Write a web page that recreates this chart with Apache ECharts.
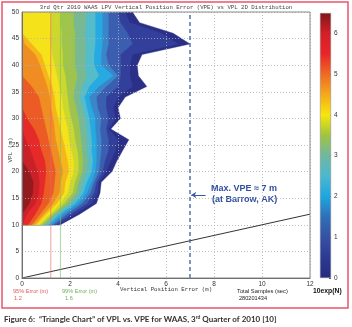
<!DOCTYPE html>
<html><head><meta charset="utf-8">
<script src="https://cdn.jsdelivr.net/npm/echarts@6/dist/echarts.min.js"></script>
<style>html,body{margin:0;padding:0;background:#fff}#c{width:352px;height:327px}</style>
</head><body><div id="c"></div>
<script>
// ---- data ----
const vplRows = [10,12,14,16,18,20,22,24,26,28,30,32,34,36,38,40,42,44,46,48,50];
// VPE (m) where each contour band ends, per VPL row (outermost band first)
const edgeNavy     = [1.6,2.4,3.1,3.25,3.3,3.75,3.95,4.2,4.45,3.7,4.1,4.0,4.3,5.2,4.85,4.8,5.0,7.0,6.3,4.9,4.6];
const edgeDarkBlue = [1.5,2.2,2.9,3.15,3.2,3.5,3.7,3.9,4.0,3.6,3.9,3.8,4.0,4.6,4.5,4.5,4.6,6.5,5.8,4.5,4.3];
const edgeBlue     = [1.4,2.0,2.7,3.0,3.1,3.35,3.45,3.6,3.6,3.5,3.6,3.5,3.5,4.0,4.1,4.1,4.1,4.6,4.4,4.1,4.0];
const edgeMidBlue  = [1.3,1.85,2.5,2.85,3.0,3.2,3.25,3.3,3.3,3.25,3.3,3.15,3.1,3.5,4.0,3.6,3.5,3.6,3.6,3.6,3.6];
const edgeCyan     = [1.2,1.7,2.35,2.7,2.9,3.05,3.1,3.1,3.1,3.05,3.05,2.9,2.8,3.2,3.8,3.3,3.3,3.35,3.35,3.35,3.35];
const edgeTeal     = [1.1,1.55,2.2,2.55,2.7,2.9,2.95,2.9,2.9,2.85,2.8,2.7,2.6,2.8,3.2,3.0,3.0,3.05,3.05,3.05,3.05];
const edgeTealGreen= [1.0,1.45,2.05,2.4,2.5,2.7,2.75,2.7,2.7,2.65,2.6,2.5,2.4,2.5,2.7,2.6,2.65,2.65,2.6,2.65,2.65];
const edgeGreen    = [0.9,1.35,1.9,2.25,2.35,2.5,2.55,2.5,2.45,2.4,2.35,2.25,2.15,2.2,2.3,2.2,2.2,2.2,2.2,2.15,2.15];
const edgeYelGreen = [0.8,1.25,1.75,2.1,2.2,2.35,2.35,2.3,2.2,2.15,2.05,1.95,1.9,1.85,1.8,1.7,1.7,1.65,1.65,1.6,1.6];
const edgeYellow   = [0.7,1.15,1.6,1.9,2.0,2.15,2.15,2.05,1.95,1.9,1.8,1.7,1.65,1.55,1.45,1.35,1.25,1.2,1.2,1.2,1.2];
const edgeYelOrange= [0.6,1.0,1.45,1.75,1.8,1.95,1.9,1.8,1.7,1.6,1.5,1.4,1.35,1.25,1.1,0.95,0.8,0.4,0,0,0];
const edgeOrange   = [0.5,0.9,1.3,1.55,1.6,1.7,1.6,1.5,1.4,1.35,1.3,1.2,1.15,1.05,0.9,0.75,0.55,0.1,0,0,0];
const edgeRedOrange= [0.4,0.75,1.1,1.3,1.35,1.4,1.3,1.2,1.1,1.0,0.9,0.8,0.7,0.4,0,0,0,0,0,0,0];
const edgeRed      = [0.25,0.55,0.8,0.9,0.95,1.0,0.95,0.8,0.7,0.5,0.2,0,0,0,0,0,0,0,0,0,0];
const edgeDarkRed  = [0,0.2,0.55,0.7,0.72,0.65,0.5,0.35,0.15,0,0,0,0,0,0,0,0,0,0,0,0];
const edgeDeepRed  = [0,0,0.3,0.45,0.47,0.3,0,0,0,0,0,0,0,0,0,0,0,0,0,0,0];
const bandColors = ['#2a2f87','#33409b','#3c5eb0','#3a86c8','#27a9e1','#55bcc9','#78b993','#9ec54a',
                    '#cdd82e','#f5e21a','#f6b61b','#f08d22','#ec5b25','#e52a29','#c92128','#931b1e'];
const bandEdges = [edgeNavy,edgeDarkBlue,edgeBlue,edgeMidBlue,edgeCyan,edgeTeal,edgeTealGreen,edgeGreen,
                   edgeYelGreen,edgeYellow,edgeYelOrange,edgeOrange,edgeRedOrange,edgeRed,edgeDarkRed,edgeDeepRed];
const overboundX = [0, 12];          // VPL = VPE line
const err95 = 1.2, err99 = 1.6, maxVPE = 7;
const arrowFromX = 7.65, arrowY = 15.6;
const colorbarMax = 6.5;
const colorbarStops = [0,0.5,1,1.5,2,2.5,3,3.5,4,4.5,5,5.5,6,6.5];
const colorbarColors = ['#262a80','#2c3a93','#3651a4','#2f6fb8','#1da6e0','#4bb8cf','#6fb8a0','#a0c440',
                        '#f7e60d','#f4a91c','#ee6a24','#e8252a','#d41f27','#7e1818'];

const chart = echarts.init(document.getElementById('c'), null, {renderer:'canvas'});
const sans = 'Liberation Sans';
const vLine = (x) => [[x, 0], [x, 50]];

chart.setOption({
  animation:false,
  grid:[
    {left:22, top:12, width:288, height:266, show:true, borderColor:'#8a8a8a', borderWidth:1, z:8},
    {left:320, top:13, width:11, height:265}
  ],
  xAxis:[
    {gridIndex:0, type:'value', min:0, max:12, interval:2, z:5,
     axisLine:{show:true, lineStyle:{color:'#555', width:1}}, axisTick:{show:false},
     axisLabel:{fontSize:6.5, fontFamily:sans, color:'#333', margin:3},
     splitLine:{show:true, lineStyle:{color:'#b0b0b0', type:[1,2], width:0.8}}},
    {gridIndex:1, type:'category', data:['cb'], show:false}
  ],
  yAxis:[
    {gridIndex:0, type:'value', min:0, max:50, interval:5, z:5,
     axisLine:{show:true, lineStyle:{color:'#555', width:1}}, axisTick:{show:false},
     axisLabel:{fontSize:6.5, fontFamily:sans, color:'#333', margin:3},
     splitLine:{show:true, lineStyle:{color:'#b0b0b0', type:[1,2], width:0.8}}},
    {gridIndex:1, type:'value', min:0, max:colorbarMax, interval:1, position:'right',
     axisLine:{show:false}, axisTick:{show:true, inside:true, length:2, lineStyle:{color:'#555'}},
     axisLabel:{fontSize:6.5, fontFamily:sans, color:'#333', margin:3, showMaxLabel:false},
     splitLine:{show:false}}
  ],
  series:[
    {type:'custom', xAxisIndex:0, yAxisIndex:0, z:1, silent:true, clip:true,
     data: bandEdges.map((e,k)=>[k]),
     renderItem:(params, api)=>{
       const k = params.dataIndex, edge = bandEdges[k];
       const pts = [api.coord([0, vplRows[0]])];
       edge.forEach((x,i)=>pts.push(api.coord([x, vplRows[i]])));
       pts.push(api.coord([0, vplRows[vplRows.length-1]]));
       return {type:'polygon', shape:{points:pts},
               style:{fill:bandColors[k], stroke:bandColors[k], lineWidth:0.4}};
     }},
    {type:'line', xAxisIndex:0, yAxisIndex:0, z:6, symbol:'none', silent:true,
     data: overboundX.map(v=>[v,v]), lineStyle:{color:'#333', width:1}},
    {type:'line', xAxisIndex:0, yAxisIndex:0, z:6, symbol:'none', silent:true,
     data: vLine(err95), lineStyle:{color:'#e06a6a', width:0.8, opacity:0.8}},
    {type:'line', xAxisIndex:0, yAxisIndex:0, z:6, symbol:'none', silent:true,
     data: vLine(err99), lineStyle:{color:'#7cbf6a', width:0.8, opacity:0.8}},
    {type:'line', xAxisIndex:0, yAxisIndex:0, z:6, symbol:'none', silent:true,
     data: vLine(maxVPE), lineStyle:{color:'#3a5ba8', width:1.3, type:[4,3]}},
    {type:'lines', coordinateSystem:'cartesian2d', xAxisIndex:0, yAxisIndex:0, z:7, silent:true,
     symbol:['none','arrow'], symbolSize:5,
     data:[{coords:[[arrowFromX, arrowY],[maxVPE+0.05, arrowY]]}],
     lineStyle:{color:'#3a5ba8', width:1, opacity:1}},
    {type:'bar', xAxisIndex:1, yAxisIndex:1, barWidth:'100%', silent:true,
     data:[colorbarMax],
     itemStyle:{borderColor:'#888', borderWidth:0.5,
       color:new echarts.graphic.LinearGradient(0,1,0,0,
         colorbarStops.map((v,i)=>({offset:v/colorbarMax, color:colorbarColors[i]})))}}
  ],
  graphic:[
    {type:'rect', shape:{x:2, y:2, width:346, height:306}, style:{fill:'none', stroke:'#e8566e', lineWidth:1.5}, z:20},
    {type:'text', x:166, y:7, style:{text:'3rd Qtr 2010 WAAS LPV Vertical Position Error (VPE) vs VPL 2D Distribution',
      font:'5.7px "Liberation Mono"', fill:'#444', align:'center', verticalAlign:'middle'}},
    {type:'text', x:166, y:289, style:{text:'Vertical Position Error (m)',
      font:'5.7px "Liberation Mono"', fill:'#333', align:'center', verticalAlign:'middle'}},
    {type:'text', x:10, y:150, rotation:Math.PI/2, style:{text:'VPL (m)',
      font:'6px "Liberation Mono"', fill:'#333', align:'center', verticalAlign:'middle'}},
    {type:'text', x:13, y:291, style:{text:'95% Error (m)', font:'5.6px "Liberation Sans"', fill:'#e05a5a', verticalAlign:'middle'}},
    {type:'text', x:14, y:298.5, style:{text:String(err95), font:'5.6px "Liberation Sans"', fill:'#e05a5a', verticalAlign:'middle'}},
    {type:'text', x:62, y:291, style:{text:'99% Error (m)', font:'5.6px "Liberation Sans"', fill:'#6cae5a', verticalAlign:'middle'}},
    {type:'text', x:65, y:298.5, style:{text:String(err99), font:'5.6px "Liberation Sans"', fill:'#6cae5a', verticalAlign:'middle'}},
    {type:'text', x:237, y:291, style:{text:'Total Samples (sec)', font:'5.8px "Liberation Sans"', fill:'#222', verticalAlign:'middle'}},
    {type:'text', x:239, y:298.5, style:{text:'280201434', font:'5.6px "Liberation Sans"', fill:'#222', verticalAlign:'middle'}},
    {type:'text', x:313, y:291, style:{text:'10exp(N)', font:'bold 6.8px "Liberation Sans"', fill:'#111', verticalAlign:'middle'}},
    {type:'text', x:211, y:189, style:{text:'Max. VPE \u2248 7 m', font:'bold 9px "Liberation Sans"', fill:'#2f4f9e', verticalAlign:'middle'}},
    {type:'text', x:212, y:199.5, style:{text:'(at Barrow, AK)', font:'bold 9px "Liberation Sans"', fill:'#2f4f9e', verticalAlign:'middle'}},
    {type:'text', x:4, y:319, style:{
      text:'{a|Figure 6:  \u201CTriangle Chart\u201D of VPL vs. VPE for WAAS, 3}{s|rd}{a| Quarter of 2010 [10]}',
      rich:{a:{font:'bold 8px Lato', fill:'#3a2f2f'}, s:{font:'bold 5px Lato', fill:'#3a2f2f', verticalAlign:'top'}},
      verticalAlign:'middle'}}
  ]
});
</script></body></html>
